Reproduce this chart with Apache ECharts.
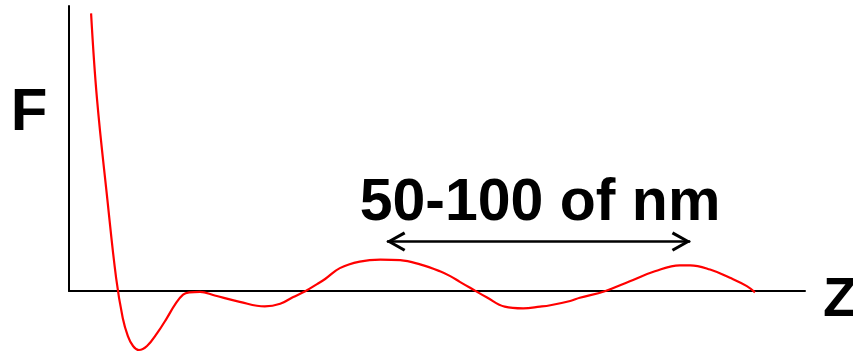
<!DOCTYPE html>
<html>
<head>
<meta charset="utf-8">
<script src="https://cdn.jsdelivr.net/npm/echarts@6/dist/echarts.min.js"></script>
<style>
html,body{margin:0;padding:0;background:#fff;}
#chart{width:853px;height:355px;}
</style>
</head>
<body>
<div id="chart"></div>
<script>
// Distance Z (arbitrary units) and force F (arbitrary units)
const zValues = [0.30, 0.38, 0.52, 0.64, 0.73, 0.80, 0.87, 0.95, 1.06, 1.20, 1.33, 1.44, 1.55, 1.64, 1.78, 1.98, 2.32, 2.66, 2.87, 3.04, 3.21, 3.37, 3.48, 3.68, 3.95, 4.23, 4.50, 4.77, 5.04, 5.18, 5.31, 5.45, 5.68, 5.92, 6.17, 6.40, 6.54, 6.81, 6.94, 7.28, 7.62, 7.96, 8.30, 8.44, 8.71, 8.98, 9.21, 9.32];
const fValues = [9.74, 6.75, 3.25, 0.47, -0.94, -1.57, -1.92, -2.06, -1.92, -1.46, -0.94, -0.47, -0.12, -0.04, -0.02, -0.15, -0.37, -0.53, -0.44, -0.21, 0.00, 0.25, 0.43, 0.81, 1.04, 1.11, 1.09, 0.94, 0.70, 0.53, 0.33, 0.12, -0.22, -0.54, -0.60, -0.54, -0.49, -0.34, -0.23, 0.00, 0.35, 0.70, 0.91, 0.91, 0.76, 0.47, 0.18, -0.04];

// Annotation arrow span (in Z units) and its height (in F units)
const arrowSpan = [4.32, 8.44];
const arrowLevel = 1.74;
const annotationText = '50-100 of nm';
const yAxisName = 'F';
const xAxisName = 'Z';

const curve = zValues.map((z, i) => [z, fValues[i]]);

const chart = echarts.init(document.getElementById('chart'), null, {renderer: 'canvas'});

const chevron = 'path://M10,-18 M10,0 L20,18 L17.4,19.6 L10,6 L2.6,19.6 L0,18 Z';

const hiddenAxis = {
  axisLine: {show: false}, axisTick: {show: false},
  axisLabel: {show: false}, splitLine: {show: false}
};

chart.setOption({
  animation: false,
  backgroundColor: '#ffffff',
  grid: [
    {left: 69, right: 48, top: 6, bottom: 64},
    {left: 69, right: 48, top: 6, bottom: 1}
  ],
  xAxis: [
    {
      type: 'value', gridIndex: 0, min: 0, max: 10, position: 'bottom',
      axisLine: {show: true, onZero: false, lineStyle: {color: '#000', width: 2}},
      axisTick: {show: false}, axisLabel: {show: false}, splitLine: {show: false}
    },
    Object.assign({type: 'value', gridIndex: 1, min: 0, max: 10}, hiddenAxis)
  ],
  yAxis: [
    {
      type: 'value', gridIndex: 0, min: 0, max: 10,
      axisLine: {show: true, onZero: false, lineStyle: {color: '#000', width: 2}},
      axisTick: {show: false}, axisLabel: {show: false}, splitLine: {show: false}
    },
    Object.assign({type: 'value', gridIndex: 1, min: -2.2, max: 10}, hiddenAxis)
  ],
  series: [
    {
      type: 'line',
      xAxisIndex: 1, yAxisIndex: 1,
      data: curve,
      smooth: 0.4,
      symbol: 'none',
      clip: false,
      lineStyle: {color: '#ff0000', width: 2.2},
      markLine: {
        silent: true,
        symbol: [chevron, chevron],
        symbolSize: [20, 37],
        label: {show: false},
        lineStyle: {color: '#000', width: 2.5, type: 'solid'},
        data: [[
          {coord: [arrowSpan[0], arrowLevel]},
          {coord: [arrowSpan[1], arrowLevel]}
        ]]
      }
    }
  ],
  graphic: [
    {
      type: 'text', x: 540, y: 204,
      style: {text: annotationText, font: 'bold 59px "Liberation Sans", Arial, sans-serif',
        fill: '#000', align: 'center', verticalAlign: 'middle'}
    },
    {
      type: 'text', x: 29, y: 113,
      style: {text: yAxisName, font: 'bold 60px "Liberation Sans", Arial, sans-serif',
        fill: '#000', align: 'center', verticalAlign: 'middle'}
    },
    {
      type: 'text', x: 840, y: 301,
      style: {text: xAxisName, font: 'bold 56px "Liberation Sans", Arial, sans-serif',
        fill: '#000', align: 'center', verticalAlign: 'middle'}
    }
  ]
});
</script>
</body>
</html>
